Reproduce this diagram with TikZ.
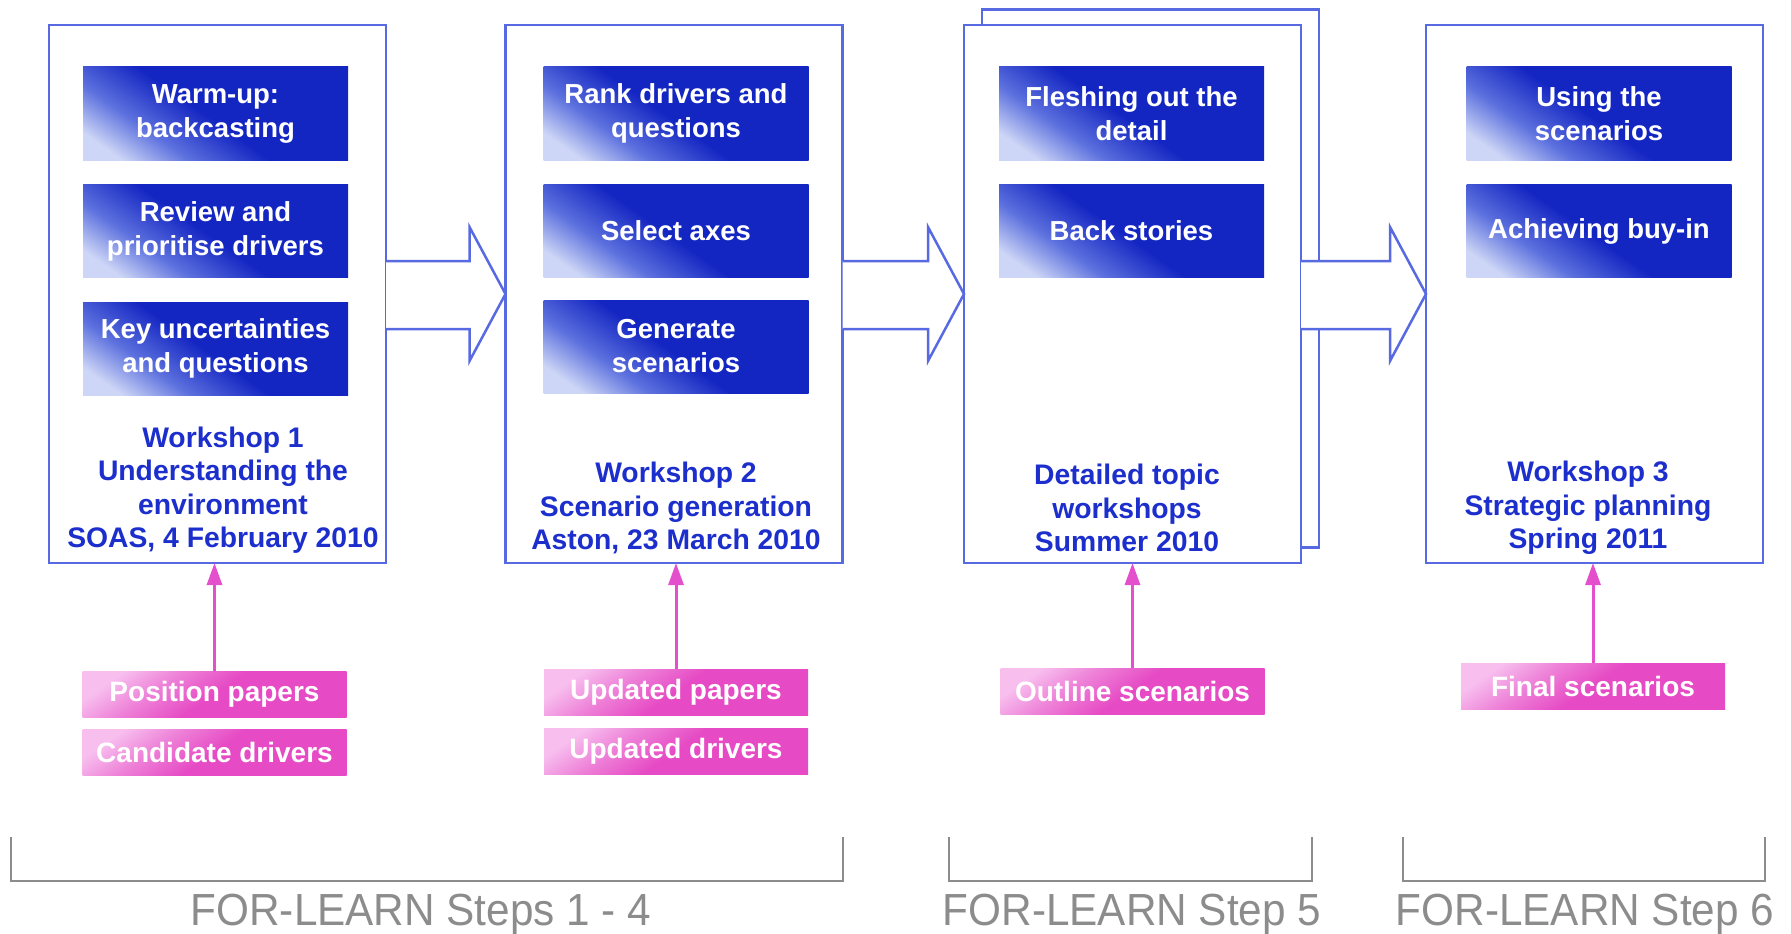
\documentclass[tikz,border=0pt]{standalone}
\usepackage{fontspec}
\setmainfont{Liberation Sans}
\newfontfamily\stepfont[FakeStretch=0.94]{Liberation Sans}
\usetikzlibrary{arrows.meta,calc}

\definecolor{frameblue}{RGB}{88,106,226}
\definecolor{titleblue}{RGB}{28,46,204}
\definecolor{taskblue}{RGB}{20,38,194}
\definecolor{taskmid}{RGB}{92,112,222}
\definecolor{taskglow}{RGB}{205,214,246}
\definecolor{notepink}{RGB}{230,74,196}
\definecolor{notemid}{RGB}{238,130,216}
\definecolor{noteglow}{RGB}{247,190,238}
\definecolor{arrowpink}{RGB}{228,80,204}
\definecolor{bracketgray}{RGB}{140,140,140}

% light corner fading into the box colour
\pgfdeclarehorizontalshading{taskshade}{100bp}{color(0bp)=(taskglow);
  color(22bp)=(taskglow); color(34bp)=(taskmid); color(48bp)=(taskblue);
  color(100bp)=(taskblue)}
\pgfdeclarehorizontalshading{noteshade}{100bp}{color(0bp)=(noteglow);
  color(24bp)=(noteglow); color(36bp)=(notemid); color(50bp)=(notepink);
  color(100bp)=(notepink)}

\tikzset{
  frame/.style={draw=frameblue, line width=2.5pt, fill=white,
    minimum width=337pt, minimum height=538pt, inner sep=0pt, outer sep=0pt},
  task/.style={minimum width=265pt, minimum height=93pt, inner sep=0pt,
    text=white, font=\bfseries\fontsize{27.5}{34}\selectfont, align=center,
    shade, shading=taskshade, shading angle=55},
  note/.style={minimum width=264pt, minimum height=46pt, inner sep=0pt,
    text=white, font=\bfseries\fontsize{28}{32}\selectfont,
    shade, shading=noteshade, shading angle=-55},
  title/.style={text=titleblue, font=\bfseries\fontsize{28.3}{33.5}\selectfont,
    align=center, inner sep=0pt},
  blockarrow/.style={draw=frameblue, line width=2.5pt, fill=white, line join=miter},
  feed/.style={draw=arrowpink, line width=3pt,
    -{Triangle[length=22pt,width=15pt]}, fill=arrowpink},
  bracket/.style={draw=bracketgray, line width=2pt},
  steplabel/.style={text=bracketgray, font=\stepfont\fontsize{45}{48}\selectfont,
    inner sep=0pt, anchor=base}
}

\begin{document}
\begin{tikzpicture}[x=1pt, y=-1pt]
\useasboundingbox (0,0) rectangle (1791,934);

% workshop frames (the third one is a stack of two sheets)
\node[frame] (wsA) at (217.5,294) {};
\node[frame] (wsB) at (674,294) {};
\node[frame] (wsCback) at (1150.5,278.5) {};
\node[frame] (wsC) at (1132.5,294) {};
\node[frame] (wsD) at (1594.5,294) {};

% activities inside each workshop
\node[task] (a1) at (215.5,113.5) {Warm-up:\\backcasting};
\node[task] (a2) at (215.5,231) {Review and\\prioritise drivers};
\node[task] (a3) at (215.5,348.5) {Key uncertainties\\and questions};

\node[task] (b1) at (676,113.5) {Rank drivers and\\questions};
\node[task] (b2) at (676,231) {Select axes};
\node[task] (b3) at (676,346.5) {Generate\\scenarios};

\node[task] (c1) at (1131.5,113.5) {Fleshing out the\\detail};
\node[task] (c2) at (1131.5,231) {Back stories};

\node[task] (d1) at (1599,113.5) {Using the\\scenarios};
\node[task] (d2) at (1599,231) {Achieving buy-in};

% workshop captions
\node[title] (tA) at (223,490) {Workshop 1\\Understanding the\\environment\\SOAS, 4 February 2010};
\node[title] (tB) at (676,508) {Workshop 2\\Scenario generation\\Aston, 23 March 2010};
\node[title] (tC) at (1127,508) {Detailed topic\\workshops\\Summer 2010};
\node[title] (tD) at (1588,508) {Workshop 3\\Strategic planning\\Spring 2011};

% block arrows between workshops
\foreach \u/\v in {wsA/wsB, wsB/wsC, wsC/wsD}{
  \draw[blockarrow] ($(\u.east)+(0,-33)$) -- ($(\v.west)+(-36,-33)$)
    -- ($(\v.west)+(-36,-67)$) -- (\v.west) -- ($(\v.west)+(-36,67)$)
    -- ($(\v.west)+(-36,35)$) -- ($(\u.east)+(0,35)$);
}

% input documents
\node[note] (pA1) at (214.5,694.5) {Position papers};
\node[note] (pA2) at (214.5,752.5) {Candidate drivers};
\node[note] (pB1) at (676,692.5) {Updated papers};
\node[note] (pB2) at (676,751) {Updated drivers};
\node[note] (pC) at (1132.5,691) {Outline scenarios};
\node[note] (pD) at (1593,686.5) {Final scenarios};

\draw[feed] (pA1.north) -- (pA1.north |- wsA.south);
\draw[feed] (pB1.north) -- (pB1.north |- wsB.south);
\draw[feed] (pC.north) -- (pC.north |- wsC.south);
\draw[feed] (pD.north) -- (pD.north |- wsD.south);

% FOR-LEARN step brackets
\draw[bracket] (11,837) -- (11,881) -- (843,881) -- (843,837);
\draw[bracket] (949,837) -- (949,881) -- (1312,881) -- (1312,837);
\draw[bracket] (1403,837) -- (1403,881) -- (1765,881) -- (1765,837);
\node[steplabel] (sA) at (421,925) {FOR-LEARN Steps 1 - 4};
\node[steplabel] (sB) at (1132,925) {FOR-LEARN Step 5};
\node[steplabel] (sC) at (1585,925) {FOR-LEARN Step 6};
\end{tikzpicture}
\end{document}
